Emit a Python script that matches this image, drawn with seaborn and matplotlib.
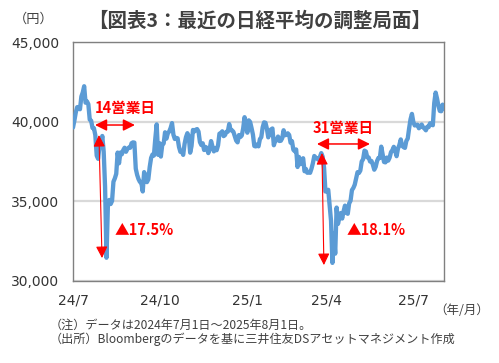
import numpy as np
import pandas as pd
import matplotlib
matplotlib.use('Agg')
import matplotlib.pyplot as plt
import seaborn as sns

# Nikkei 225 close (円), one value per trading day
q3_2024 = [39631, 40074, 40580, 40913, 40912, 40780, 41580, 41831, 42224, 41190,
           41275, 41097, 40126, 40063, 39599, 39594, 39155, 37869, 37667, 38468,
           38526, 39102,
           38126, 35909, 31458, 34675, 35089, 34831, 35025, 36232, 36442, 36726,
           38062, 37388, 38063, 37951, 38211, 38364, 38110, 38288, 38371, 38362,
           38648,
           38700, 38686, 37047, 36657, 36391, 36216, 36159, 35620, 36833, 36581,
           36203, 36380, 37155, 37724, 37940, 37870, 38926, 39830, 37920]
q4_2024 = [38652, 37809, 38552, 38636, 39333, 38938, 39278, 39381, 39606, 39911,
           39180, 38911, 38982, 38955, 38412, 38105, 38143, 37914, 38606, 39027,
           39277, 39081,
           38054, 38475, 39480, 39381, 39500, 39533, 39377, 38721, 38536, 38642,
           38220, 38414, 38352, 38026, 38284, 38780, 38442, 38135, 38349, 38208,
           38513, 39248, 39276, 39395, 39091, 39160, 39367, 39372, 39849, 39470,
           39457, 39364, 39081, 38813, 38701, 39161, 39036, 39130, 39568, 40281,
           39894]
q1_2025 = [39307, 40083, 39981, 39605, 39190, 38474, 38445, 38572, 38451, 38902,
           39027, 39646, 39958, 39931, 39565, 39016, 39414, 39513, 39572,
           38520, 38798, 38831, 39066, 38787, 38801, 38963, 39461, 39149, 39174,
           39270, 39164, 38678, 38776, 38237, 38142, 38256, 37155,
           37785, 37331, 37418, 37704, 36887, 37028, 36793, 36819, 36790, 37053,
           37396, 37845, 37751, 37677, 37608, 37780, 38027, 37799, 37120, 35617]
q2_2025 = [35624, 35725, 34735, 33780, 31136, 33012, 31714, 34609, 33586, 33982,
           34267, 33920, 34377, 34730, 34280, 34220, 34868, 35039, 35705, 35839,
           36045,
           36452, 36830, 36780, 36928, 37503, 37644, 38183, 38128, 37755, 37753,
           37498, 37529, 37299, 36985, 37160, 37532, 37724, 37723, 38432, 37965,
           37470, 37446, 37747, 37554, 37741, 38088, 38211, 38421, 38173, 37834,
           38311, 38536, 38885, 38488, 38403, 38354, 38790, 38942, 39584, 40150,
           40487]
jul_2025 = [39986, 39762, 39786, 39810, 39587, 39688, 39821, 39646, 39569, 39459,
            39678, 39663, 39901, 39819, 39775, 41171, 41826, 41456, 40998, 40674,
            40654, 41069, 40800]

tick_labels = ['24/7', '24/10', '25/1', '25/4', '25/7']
y_ticks = [30000, 35000, 40000, 45000]

sns.set_style('white')
plt.rcParams['font.family'] = ['Noto Sans CJK JP', 'DejaVu Sans']

closes = q3_2024 + q4_2024 + q1_2025 + q2_2025 + jul_2025
df = pd.DataFrame({'day': np.arange(len(closes)), 'close': closes})
tick_pos = np.cumsum([0] + [len(q) for q in (q3_2024, q4_2024, q1_2025, q2_2025)])

fig = plt.figure(figsize=(4.99, 3.63), dpi=100)
ax = fig.add_axes([73 / 499, 82 / 363, 371 / 499, 239 / 363])

sns.lineplot(data=df, x='day', y='close', color='#5b9bd5', lw=3.1, ax=ax, zorder=3)

ax.set_xlim(0, len(closes) - 1)
ax.set_ylim(30000, 45000)
ax.set_yticks(y_ticks)
ax.set_yticklabels([f'{v:,}' for v in y_ticks], family='DejaVu Sans', fontsize=10, color='#333333')
ax.set_xticks(tick_pos)
ax.set_xticklabels(tick_labels, family='DejaVu Sans', fontsize=10, color='#333333')
ax.tick_params(axis='y', length=0, pad=10)
ax.tick_params(axis='x', direction='in', length=4, color='#808080', pad=9)
ax.set_xlabel('')
ax.set_ylabel('')
ax.yaxis.grid(True, color='#d9d9d9', lw=1.6)
ax.set_axisbelow(True)
for s in ax.spines.values():
    s.set_color('#808080')
    s.set_linewidth(1.0)

red = '#ff0000'
hstyle = '<|-|>,head_length=0.7,head_width=0.35'

# 2024 summer drop
ax.annotate('', xy=(15.8, 39790), xytext=(44.4, 39790),
            arrowprops=dict(arrowstyle=hstyle, color=red, lw=1.1, shrinkA=0, shrinkB=0,
                            mutation_scale=10))
ax.annotate('', xy=(18.6, 39160), xytext=(20.8, 31440),
            arrowprops=dict(arrowstyle=hstyle, color=red, lw=0.8, shrinkA=0, shrinkB=0,
                            mutation_scale=10))
ax.text(15.5, 40850, '14営業日', color=red, fontsize=10.5, fontweight='bold', va='center')
ax.text(30.0, 33200, '▲17.5%', color=red, fontsize=10.5, fontweight='bold', va='center')

# 2025 spring drop
ax.annotate('', xy=(174.9, 38600), xytext=(212.9, 38600),
            arrowprops=dict(arrowstyle=hstyle, color=red, lw=1.1, shrinkA=0, shrinkB=0,
                            mutation_scale=10))
ax.annotate('', xy=(178.5, 38030), xytext=(179.9, 31000),
            arrowprops=dict(arrowstyle=hstyle, color=red, lw=0.8, shrinkA=0, shrinkB=0,
                            mutation_scale=10))
ax.text(171.5, 39600, '31営業日', color=red, fontsize=10.5, fontweight='bold', va='center')
ax.text(196.4, 33200, '▲18.1%', color=red, fontsize=10.5, fontweight='bold', va='center')

fig.text(260 / 499, 1 - 21 / 363, '【図表3：最近の日経平均の調整局面】', ha='center', va='center',
         fontsize=14, fontweight='bold', color='#404040')
fig.text(34 / 499, 1 - 19 / 363, '（円）', ha='center', va='center', fontsize=9.5, color='#404040')
fig.text(462 / 499, 1 - 311 / 363, '（年/月）', ha='center', va='center', fontsize=9, color='#404040')
fig.text(50 / 499, 1 - 325 / 363, '（注）データは2024年7月1日～2025年8月1日。', va='center',
         fontsize=8.7, color='#404040')
fig.text(50 / 499, 1 - 339 / 363, '（出所）Bloombergのデータを基に三井住友DSアセットマネジメント作成',
         va='center', fontsize=8.7, color='#404040')

plt.savefig('out.png', dpi=100)
